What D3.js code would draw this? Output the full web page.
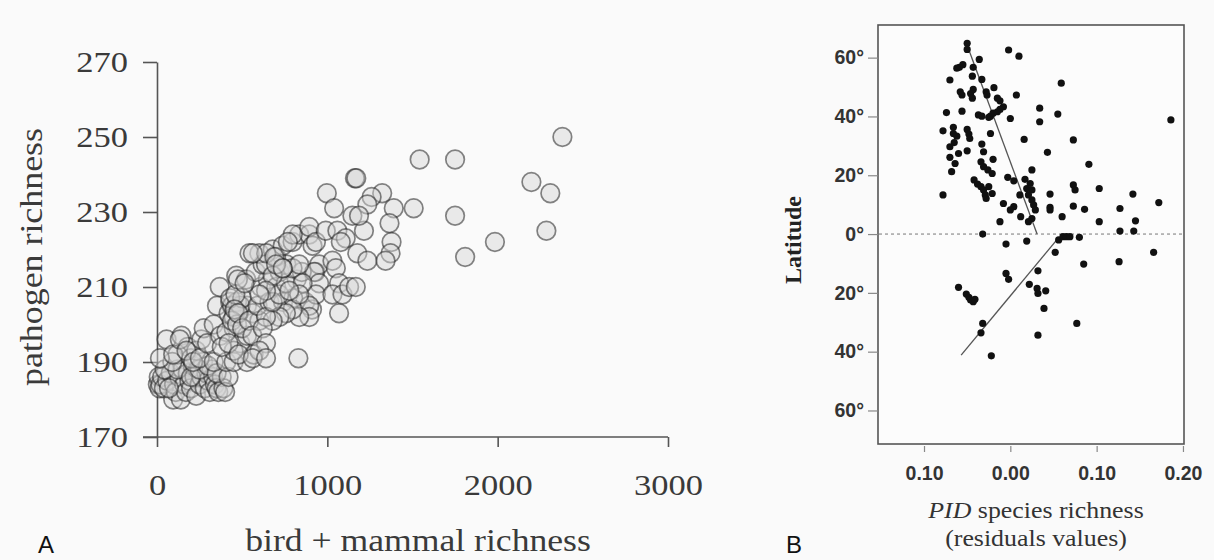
<!DOCTYPE html>
<html><head><meta charset="utf-8">
<script src="https://cdn.jsdelivr.net/npm/d3@7"></script>
<style>
html,body{margin:0;padding:0;background:#fafafa;}
svg{display:block;}
</style></head>
<body>
<svg id="chart" width="1214" height="560"></svg>
<script>
// ---------- Panel A data: [bird + mammal richness, pathogen richness] ----------
const richnessA = [
 [5,184],[10,186],[15,183],[20,184],[30,186],[40,183],[60,185],[80,187],[95,180],[100,184],[110,182],
 [130,186],[140,180],[150,188],[160,184],[170,182],[180,187],[190,185],[200,183],[210,189],[220,186],
 [230,181],[240,188],[250,184],[260,186],[270,190],[280,183],[290,187],[300,185],[310,182],[320,188],
 [330,186],[340,184],[350,183],[360,182],[380,186],[390,183],[400,182],
 [45,188],[70,183],[120,188],[200,186],[250,188],[300,189],[350,187],[420,186],
 [56,196],[144,197],[180,194],[120,192],[200,191],[230,193],[260,196],[90,190],[17,191],[95,192],
 [134,196],[173,193],[212,190],[251,191],[333,190],[407,190],[450,190],[528,190],[567,192],
 [274,199],[294,195],[333,200],[372,197],[450,199],[489,195],[450,193],[528,197],[407,198],
 [352,205],[430,206],[528,205],[562,203],[601,201],[368,210],[465,213],[524,212],
 [420,203],[440,205],[450,202],[460,204],[470,206],[480,203],[490,205],[440,201],[470,200],
 [430,207],[500,207],[460,208],[455,204],[475,203],
 [380,194],[420,195],[480,192],[500,199],[540,201],[560,197],[590,205],[610,210],[650,212],
 [700,210],[720,214],[760,216],[820,212],[870,206],[910,204],[930,214],[660,206],[740,206],
 [800,207],[850,214],[580,214],[620,216],
 [601,219],[640,216],[679,220],[699,218],[738,221],[796,222],[835,224],[894,224],[913,221],
 [952,216],[923,214],[952,211],[933,208],[894,205],[894,202],[835,202],[796,204],[757,203],
 [718,202],[679,201],[640,202],[679,206],[718,208],[757,211],[796,215],[835,216],[855,211],
 [835,208],[777,209],[738,215],[679,213],[640,209],[601,208],[621,199],[640,195],[601,193],
 [562,191],[640,191],[830,191],[543,219],[641,219],[689,218],[699,216],[738,215],[475,212],
 [514,211],[563,219],[797,224],[768,222],[894,226],[933,222],[991,225],
 [1030,217],[1050,215],[1069,211],[1030,208],[1089,208],[1069,203],[1128,210],[1167,210],
 [1176,219],[1235,217],[1059,225],[1108,223],[1079,222],[1215,225],[997,235],[1040,231],
 [1147,229],[1162,239],[1170,239],[1322,235],[1260,234],[1235,232],[1186,229],
 [1390,231],[1365,227],[1377,222],[1371,219],[1342,217],
 [1542,244],[1750,244],[2198,238],[2309,235],[1507,231],[1750,229],[2286,225],[1984,222],
 [1809,218],[2380,250]
];
const xTicksA = [0, 1000, 2000, 3000];
const yTicksA = [170, 190, 210, 230, 250, 270];

// ---------- Panel B data: [PID residual richness, latitude] ----------
const residualsB = [
 [-0.050,64.9],[-0.050,62.8],[-0.036,59.4],[-0.002,62.6],[0.010,60.5],[-0.055,57.6],[-0.059,56.7],
 [-0.062,56.4],[-0.043,56.7],[-0.070,52.4],[-0.044,53.7],[-0.033,52.6],[0.059,51.3],[-0.058,48.4],
 [-0.056,47.3],[-0.043,49.2],[-0.046,47.8],[-0.044,46.2],[-0.028,48.4],[-0.027,47.3],[-0.019,49.8],
 [-0.015,46.2],[-0.012,45.3],[0.007,47.3],[-0.008,43.3],[-0.012,42.4],[0.034,42.8],[0.055,40.8],
 [-0.074,41.3],[-0.056,41.8],[-0.037,40.5],[-0.033,40.1],[-0.025,39.7],[-0.023,40.1],[-0.020,41.1],
 [-0.015,41.6],[0.000,39.3],[0.186,38.8],[0.034,38.2],
 [-0.078,35.1],[-0.066,36.3],[-0.066,34.2],[-0.062,33.3],[-0.065,31.1],[-0.070,29.7],[-0.060,27.4],
 [-0.070,26.1],[-0.064,24.0],[-0.068,21.2],[-0.078,13.3],[-0.050,35.6],[-0.048,34.0],[-0.047,32.5],
 [-0.050,28.3],[-0.023,34.2],[-0.033,30.6],[-0.031,28.0],[-0.020,25.4],[-0.034,24.6],[-0.031,22.9],
 [-0.026,21.8],[-0.021,20.6],[-0.042,18.4],[-0.038,17.0],[-0.034,16.1],[-0.031,15.0],[-0.029,13.3],
 [-0.025,16.1],[-0.021,13.8],[-0.028,12.1],
 [0.016,32.2],[0.043,27.8],[0.073,32.0],[0.091,23.7],[0.025,21.8],
 [-0.003,19.3],[0.004,18.1],[0.017,18.6],[0.023,17.2],[0.019,15.5],[0.025,15.0],[0.021,13.3],
 [0.011,13.3],[0.025,11.6],[0.027,9.9],[0.029,8.2],[0.025,5.3],[0.021,4.2],[0.004,9.3],[0.000,8.2],
 [-0.008,10.4],[0.012,5.9],[-0.012,4.2],
 [0.046,13.6],[0.046,9.1],[0.046,8.2],[0.073,16.7],[0.075,15.0],[0.073,9.5],[0.086,8.4],[0.060,5.9],
 [0.103,15.5],[0.103,4.2],[0.127,8.7],[0.142,13.6],[0.145,4.5],[0.127,1.0],[0.143,1.0],[0.172,10.7],
 [-0.032,0.0],
 [-0.005,-3.4],[0.019,-2.4],[0.056,-2.0],[0.061,-0.9],[0.065,-0.9],[0.069,-0.9],[0.080,-1.1],
 [0.052,-6.2],[0.085,-10.2],[0.032,-12.5],[-0.005,-13.4],[-0.002,-15.4],[-0.060,-18.1],
 [-0.051,-20.4],[-0.048,-21.5],[-0.046,-22.4],[-0.043,-23.0],[-0.041,-22.2],[0.022,-17.1],
 [0.031,-18.5],[0.032,-20.2],[0.041,-19.3],[0.039,-25.3],[0.077,-30.4],[-0.032,-30.4],
 [-0.034,-33.6],[0.032,-34.4],[-0.022,-41.4],[0.126,-9.4],[0.166,-6.2]
];
const fitNorth = [[-0.051, 65], [0.031, 0]];
const fitSouth = [[-0.057, -41.2], [0.056, -1.2]];
const xTicksB = [-0.10, 0.00, 0.10, 0.20];
const xTickLabelsB = ["0.10", "0.00", "0.10", "0.20"];
const yTicksB = [60, 40, 20, 0, -20, -40, -60];
const yTickLabelsB = ["60°", "40°", "20°", "0°", "20°", "40°", "60°"];

const svg = d3.select("#chart");
const serif = "'Liberation Serif', 'Times New Roman', serif";
const sans = "'Liberation Sans', Arial, sans-serif";
const SX = 1.15; // horizontal stretch of the serif lettering

// ================= Panel A =================
const xA = d3.scaleLinear().domain([0, 3000]).range([157, 668]);
const yA = d3.scaleLinear().domain([170, 270]).range([437, 62]);
const gA = svg.append("g");
const inkA = "#3a3a3a";

const axA = gA.append("g").attr("transform", "translate(0,437)")
  .call(d3.axisBottom(xA).tickValues(xTicksA).tickFormat(d3.format("d"))
    .tickSize(10).tickSizeOuter(0).tickPadding(27));
axA.select(".domain").attr("d", `M143,0H${xA(3000)}`);
const ayA = gA.append("g").attr("transform", "translate(157,0)")
  .call(d3.axisLeft(yA).tickValues(yTicksA).tickSize(14).tickSizeOuter(0).tickPadding(15));
[axA, ayA].forEach(a => {
  a.selectAll("path,line").attr("stroke", "#555").attr("stroke-width", 1.6);
  a.selectAll("text").attr("font-family", serif).attr("font-size", 30).attr("fill", inkA);
});
ayA.selectAll(".tick text").attr("x", -29 / SX).attr("transform", `scale(${SX},1)`);
axA.selectAll(".tick text").attr("transform", `scale(${SX},1)`);

gA.append("g").selectAll("circle").data(richnessA).join("circle")
  .attr("cx", d => xA(d[0])).attr("cy", d => yA(d[1])).attr("r", 9.3)
  .attr("fill", "#d4d4d4").attr("fill-opacity", 0.45)
  .attr("stroke", "#222").attr("stroke-opacity", 0.55).attr("stroke-width", 1.7);

gA.append("text").attr("transform", "translate(42,257) rotate(-90)")
  .attr("text-anchor", "middle").attr("font-family", serif).attr("font-size", 31).attr("fill", inkA)
  .attr("textLength", 258).attr("lengthAdjust", "spacingAndGlyphs")
  .text("pathogen richness");
gA.append("text").attr("transform", `translate(418,551) scale(${SX},1)`)
  .attr("text-anchor", "middle").attr("font-family", serif).attr("font-size", 31).attr("fill", inkA)
  .text("bird + mammal richness");
gA.append("text").attr("x", 38).attr("y", 553)
  .attr("font-family", sans).attr("font-size", 24).attr("fill", "#111")
  .text("A");

// ================= Panel B =================
const xB = d3.scaleLinear().domain([-0.1533, 0.2012]).range([878, 1184]);
const yB = d3.scaleLinear().domain([-71.4, 71.1]).range([444, 25]);
const gB = svg.append("g");

gB.append("rect").attr("x", 878).attr("y", 25).attr("width", 306).attr("height", 419)
  .attr("fill", "#fcfcfc").attr("stroke", "#555").attr("stroke-width", 1.6);

const axB = gB.append("g").attr("transform", "translate(0,446)")
  .call(d3.axisBottom(xB).tickValues(xTicksB).tickFormat((d, i) => xTickLabelsB[i])
    .tickSize(6).tickSizeOuter(0).tickPadding(14));
axB.select(".domain").remove();
const ayB = gB.append("g").attr("transform", "translate(878,0)")
  .call(d3.axisLeft(yB).tickValues(yTicksB).tickFormat((d, i) => yTickLabelsB[i])
    .tickSize(10).tickSizeOuter(0).tickPadding(4));
ayB.select(".domain").remove();
[axB, ayB].forEach(a => {
  a.selectAll("line").attr("stroke", "#888").attr("stroke-width", 1.2);
  a.selectAll("text").attr("font-family", sans).attr("font-weight", "bold").attr("font-size", 19.5).attr("fill", "#333");
});

gB.append("line").attr("x1", 879).attr("x2", 1183).attr("y1", yB(0)).attr("y2", yB(0))
  .attr("stroke", "#777").attr("stroke-width", 1).attr("stroke-dasharray", "3,3");

const line = d3.line().x(d => xB(d[0])).y(d => yB(d[1]));
[fitNorth, fitSouth].forEach(f => {
  gB.append("path").attr("d", line(f)).attr("fill", "none").attr("stroke", "#555").attr("stroke-width", 1.3);
});

gB.append("g").selectAll("circle").data(residualsB).join("circle")
  .attr("cx", d => xB(d[0])).attr("cy", d => yB(d[1])).attr("r", 3.6).attr("fill", "#111");

gB.append("text").attr("transform", "translate(801,240) rotate(-90)")
  .attr("text-anchor", "middle").attr("font-family", serif).attr("font-weight", "bold")
  .attr("font-size", 24).attr("fill", "#222").text("Latitude");
const t1 = gB.append("text").attr("transform", `translate(1036,518) scale(${SX},1)`).attr("text-anchor", "middle")
  .attr("font-family", serif).attr("font-size", 22.5).attr("fill", "#333");
t1.append("tspan").attr("font-style", "italic").text("PID");
t1.append("tspan").text(" species richness");
gB.append("text").attr("transform", `translate(1036,546) scale(${SX},1)`).attr("text-anchor", "middle")
  .attr("font-family", serif).attr("font-size", 22.5).attr("fill", "#333").text("(residuals values)");
gB.append("text").attr("x", 786).attr("y", 553)
  .attr("font-family", sans).attr("font-size", 24).attr("fill", "#111").text("B");
</script>
</body></html>
